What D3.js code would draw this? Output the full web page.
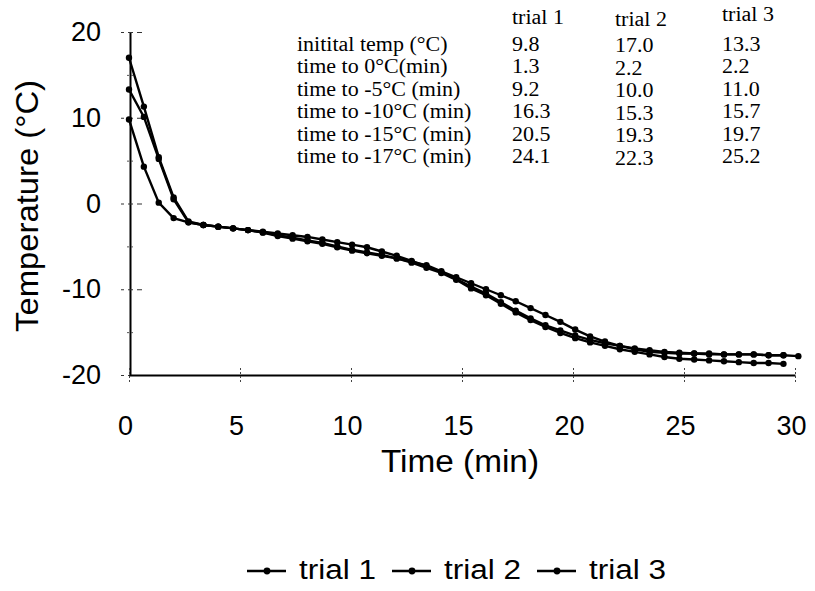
<!DOCTYPE html>
<html>
<head lang="en">
    <meta charset="UTF-8">
    <title></title>
    <script src="https://cdn.jsdelivr.net/npm/d3@7"></script>
    <style>
        body{margin:0;background:#fff;}
        svg{display:block;}
    </style>
</head>
<body>
<div id="tu1" style="width:815px;height:591px;"></div>
<script>
    // time of each reading (min)
    var times=[0,0.67,1.34,2.01,2.68,3.35,4.02,4.69,5.36,6.03,6.7,7.37,8.04,8.71,9.38,10.05,10.72,11.39,12.06,12.73,
        13.4,14.07,14.74,15.41,16.08,16.75,17.42,18.09,18.76,19.43,20.1,20.77,21.44,22.11,22.78,23.45,24.12,24.79,25.46,
        26.13,26.8,27.47,28.14,28.81,29.48,30.15];
    var trial1=[9.8,4.3,0.1,-1.7,-2.2,-2.5,-2.7,-2.9,-3.1,-3.4,-3.8,-4.1,-4.4,-4.7,-5.1,-5.5,-5.8,-6.1,-6.4,-6.8,
        -7.2,-7.9,-8.6,-9.3,-10.0,-10.7,-11.4,-12.2,-13.0,-13.8,-14.7,-15.5,-16.1,-16.6,-17.0,-17.3,-17.4,-17.5,-17.5,
        -17.6,-17.6,-17.6,-17.6,-17.7,-17.7,-17.8];
    var trial2=[17.0,11.3,5.4,0.7,-2.1,-2.5,-2.7,-2.9,-3.1,-3.35,-3.7,-4.0,-4.3,-4.6,-5.0,-5.4,-5.7,-6.0,-6.4,-6.9,
        -7.5,-8.1,-8.9,-9.9,-10.7,-11.7,-12.7,-13.6,-14.4,-15.1,-15.7,-16.2,-16.6,-17.0,-17.3,-17.6,-17.9,-18.1,-18.2,
        -18.3,-18.4,-18.5,-18.6,-18.6,-18.7];
    var trial3=[13.3,10.1,5.2,0.5,-2.2,-2.5,-2.7,-2.9,-3.1,-3.3,-3.5,-3.7,-3.9,-4.2,-4.5,-4.8,-5.1,-5.6,-6.1,-6.7,
        -7.3,-8.0,-8.8,-9.7,-10.5,-11.5,-12.5,-13.4,-14.2,-14.8,-15.4,-15.9,-16.3,-16.6,-16.9,-17.1,-17.3,-17.4,-17.5,
        -17.5,-17.6,-17.6,-17.6,-17.7,-17.7];
    var seriesNames=['trial 1','trial 2','trial 3'];
    var xticks=[0,5,10,15,20,25,30];
    var yticks=[-20,-10,0,10,20];
    var yminor=[-15,-5,5,15];
    // inset table
    var tableHeaders=['trial 1','trial 2','trial 3'];
    var rowLabels=['initital temp (°C)','time to 0°C(min)','time to -5°C (min)','time to -10°C (min)','time to -15°C (min)','time to -17°C (min)'];
    var tableValues=[['9.8','17.0','13.3'],['1.3','2.2','2.2'],['9.2','10.0','11.0'],['16.3','15.3','15.7'],['20.5','19.3','19.7'],['24.1','22.3','25.2']];

    function drawChart(divname){
        var svgwidth=815,svgheight=591;
        var _svg=d3.select('#'+divname).append('svg')
                .attr('width',svgwidth).attr('height',svgheight);
        var sans='"Liberation Sans", Arial, sans-serif';
        var serif='"Liberation Serif", "Times New Roman", serif';
        var plain=function(d){return String(d);};   // hyphen, not the unicode minus

        var _x=d3.scaleLinear().domain([0,30]).range([129,795]);
        var _y=d3.scaleLinear().domain([-20,20]).range([375,32]);

        // y axis
        var gy=_svg.append('g').attr('transform','translate(130,0)');
        d3.axisLeft(_y).tickValues(yticks).tickFormat(plain).tickSizeInner(9).tickSizeOuter(0).tickPadding(20)(gy);
        gy.select('.domain').attr('stroke','#000').attr('stroke-width',2);
        gy.selectAll('.tick line').attr('x1',12).attr('stroke','#333').attr('stroke-width',1.2).attr('stroke-dasharray','5,4');
        gy.selectAll('.tick text').attr('font-family',sans).attr('font-size',27).attr('fill','#000');
        var gym=_svg.append('g').attr('transform','translate(130,0)');
        d3.axisLeft(_y).tickValues(yminor).tickSize(4).tickFormat('')(gym);
        gym.select('.domain').remove();
        gym.selectAll('.tick line').attr('x1',3).attr('stroke','#555').attr('stroke-dasharray','2,2');

        // x axis
        var gx=_svg.append('g').attr('transform','translate(0,375)');
        d3.axisBottom(_x).tickValues(xticks).tickFormat(plain).tickSizeInner(7).tickSizeOuter(0).tickPadding(34)(gx);
        gx.select('.domain').attr('stroke','#000').attr('stroke-width',2);
        gx.selectAll('.tick line').attr('y1',-7).attr('stroke','#444').attr('stroke-dasharray','2,2');
        gx.selectAll('.tick text').attr('font-family',sans).attr('font-size',27).attr('fill','#000').attr('dx',-4);

        // axis titles (the scan is a bit wider than the font, so stretch to length)
        _svg.append('text').attr('x',460).attr('y',472).attr('text-anchor','middle')
                .attr('font-family',sans).attr('font-size',31)
                .attr('textLength',158).attr('lengthAdjust','spacingAndGlyphs').text('Time (min)');
        _svg.append('text').attr('transform','translate(38,206) rotate(-90)').attr('text-anchor','middle')
                .attr('font-family',sans).attr('font-size',32)
                .attr('textLength',252).attr('lengthAdjust','spacingAndGlyphs').text('Temperature (°C)');

        // lines + markers
        var allSeries=[trial1,trial2,trial3];
        var _line=d3.line()
                .x(function(d){return _x(d[0]);})
                .y(function(d){return _y(d[1]);});
        allSeries.forEach(function(vals,k){
            var dataset=d3.zip(times.slice(0,vals.length),vals);
            var g=_svg.append('g').attr('id','series'+(k+1));
            g.append('path').attr('d',_line(dataset))
                    .attr('fill','none').attr('stroke','#000').attr('stroke-width',2.4);
            g.selectAll('circle').data(dataset).enter().append('circle')
                    .attr('cx',function(d){return _x(d[0]);})
                    .attr('cy',function(d){return _y(d[1]);})
                    .attr('r',3.2).attr('fill','#000');
        });

        // table: scanned serif text is wider than the font, stretch it a little
        var colX=[512,615,722];
        var headY=[24,26,21];
        var rowY=[50.5,73,95.5,118,140.5,163];
        var gt=_svg.append('g').attr('font-family',serif).attr('font-size',20).attr('fill','#000');
        function stretch(t){
            t.attr('textLength',t.node().getComputedTextLength()*1.1).attr('lengthAdjust','spacingAndGlyphs');
        }
        tableHeaders.forEach(function(h,i){
            stretch(gt.append('text').attr('x',colX[i]).attr('y',headY[i]).text(h));
        });
        rowLabels.forEach(function(r,j){
            stretch(gt.append('text').attr('x',297).attr('y',rowY[j]).text(r));
            tableValues[j].forEach(function(v,i){
                stretch(gt.append('text').attr('x',colX[i]).attr('y',rowY[j]+(i==1?1.5:0)).text(v));
            });
        });

        // legend
        var gl=_svg.append('g').attr('id','legend');
        var lx=247,ly=571;
        seriesNames.forEach(function(n){
            gl.append('line').attr('x1',lx).attr('x2',lx+39).attr('y1',ly).attr('y2',ly)
                    .attr('stroke','#000').attr('stroke-width',2.4);
            gl.append('circle').attr('cx',lx+20).attr('cy',ly).attr('r',3.4).attr('fill','#000');
            gl.append('text').attr('x',lx+52).attr('y',ly+8)
                    .attr('font-family',sans).attr('font-size',27)
                    .attr('textLength',77).attr('lengthAdjust','spacingAndGlyphs').text(n);
            lx=lx+52+77+16;
        });
    }
    drawChart('tu1');
</script>
</body>
</html>
